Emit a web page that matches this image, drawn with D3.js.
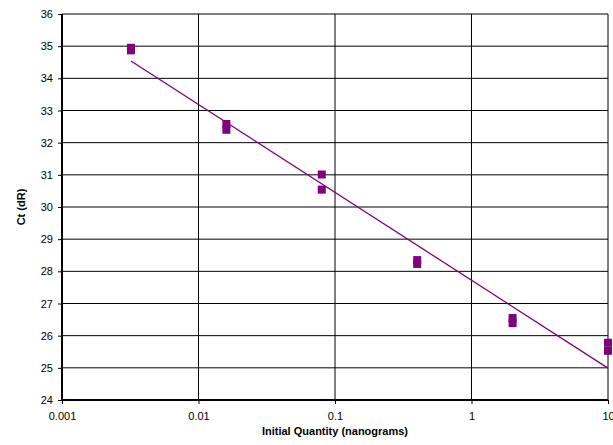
<!DOCTYPE html>
<html>
<head>
<meta charset="utf-8">
<script src="https://cdn.jsdelivr.net/npm/d3@7"></script>
<style>
  body { margin: 0; background: #fff; }
  text { font-family: "Liberation Sans", Arial, sans-serif; }
</style>
</head>
<body>
<div id="chart"></div>
<script>
(function () {
    // data: 5-fold dilution series, duplicate Ct readings
    var quantities = [0.0032, 0.0032, 0.016, 0.016, 0.08, 0.08, 0.4, 0.4, 2, 2, 10, 10];
    var ctValues = [34.95, 34.87, 32.58, 32.40, 31.01, 30.54, 28.35, 28.23, 26.55, 26.39, 25.78, 25.53];
    var xTicks = [0.001, 0.01, 0.1, 1, 10];
    var xTickLabels = ["0.001", "0.01", "0.1", "1", "10"];
    var yTicks = d3.range(24, 37, 1);

    var width = 613, height = 445;
    var left = 62, right = 608, top = 14, bottom = 400;

    var svg = d3.select("#chart")
        .append("svg")
        .attr("width", width)
        .attr("height", height);

    var x = d3.scaleLog().domain([0.001, 10]).range([left, right]);
    var y = d3.scaleLinear().domain([24, 36]).range([bottom, top]);

    // horizontal grid
    svg.append("g")
        .selectAll("line")
        .data(yTicks)
        .enter().append("line")
        .attr("x1", left).attr("x2", right)
        .attr("y1", function (d) { return y(d); })
        .attr("y2", function (d) { return y(d); })
        .attr("stroke", "#000")
        .attr("stroke-width", 1);

    // vertical grid
    svg.append("g")
        .selectAll("line")
        .data(xTicks)
        .enter().append("line")
        .attr("x1", function (d) { return x(d); })
        .attr("x2", function (d) { return x(d); })
        .attr("y1", top).attr("y2", bottom)
        .attr("stroke", "#000")
        .attr("stroke-width", 1);

    // axes
    var yAxis = d3.axisLeft(y).tickValues(yTicks).tickSize(4).tickPadding(5);
    var gy = svg.append("g")
        .attr("transform", "translate(" + left + ",0)")
        .call(yAxis);
    gy.select(".domain").remove();
    gy.append("line")
        .attr("x1", 0).attr("x2", 0)
        .attr("y1", top).attr("y2", bottom + 1)
        .attr("stroke", "#000").attr("stroke-width", 2);

    var xAxis = d3.axisBottom(x).tickValues(xTicks)
        .tickFormat(function (d, i) { return xTickLabels[i]; })
        .tickSize(4).tickPadding(8);
    var gx = svg.append("g")
        .attr("transform", "translate(0," + bottom + ")")
        .call(xAxis);
    gx.select(".domain").remove();
    gx.append("line")
        .attr("x1", left - 1).attr("x2", right)
        .attr("y1", 0).attr("y2", 0)
        .attr("stroke", "#000").attr("stroke-width", 2);

    svg.selectAll(".tick text")
        .attr("font-size", 11)
        .attr("font-family", "Liberation Sans, Arial, sans-serif")
        .attr("fill", "#000");
    svg.selectAll(".tick line").attr("stroke", "#000");

    // linear fit of Ct vs log10(quantity)
    var lx = quantities.map(function (q) { return Math.log10(q); });
    var mx = d3.mean(lx), my = d3.mean(ctValues);
    var sxy = d3.sum(lx, function (v, i) { return (v - mx) * (ctValues[i] - my); });
    var sxx = d3.sum(lx, function (v) { return (v - mx) * (v - mx); });
    var slope = sxy / sxx, intercept = my - slope * mx;
    var qMin = d3.min(quantities), qMax = d3.max(quantities);

    svg.append("line")
        .attr("x1", x(qMin))
        .attr("y1", y(intercept + slope * Math.log10(qMin)))
        .attr("x2", x(qMax))
        .attr("y2", y(intercept + slope * Math.log10(qMax)))
        .attr("stroke", "#800080")
        .attr("stroke-width", 1.3);

    // markers
    svg.append("g")
        .selectAll("rect")
        .data(quantities)
        .enter().append("rect")
        .attr("x", function (d) { return x(d) - 4; })
        .attr("y", function (d, i) { return y(ctValues[i]) - 4; })
        .attr("width", 8)
        .attr("height", 8)
        .attr("fill", "#800080");

    // titles
    svg.append("text")
        .attr("x", (left + right) / 2)
        .attr("y", 435)
        .attr("text-anchor", "middle")
        .attr("font-size", 11)
        .attr("font-weight", "bold")
        .text("Initial Quantity (nanograms)");

    svg.append("text")
        .attr("transform", "translate(25," + ((top + bottom) / 2) + ") rotate(-90)")
        .attr("text-anchor", "middle")
        .attr("font-size", 11)
        .attr("font-weight", "bold")
        .text("Ct (dR)");
})();
</script>
</body>
</html>
